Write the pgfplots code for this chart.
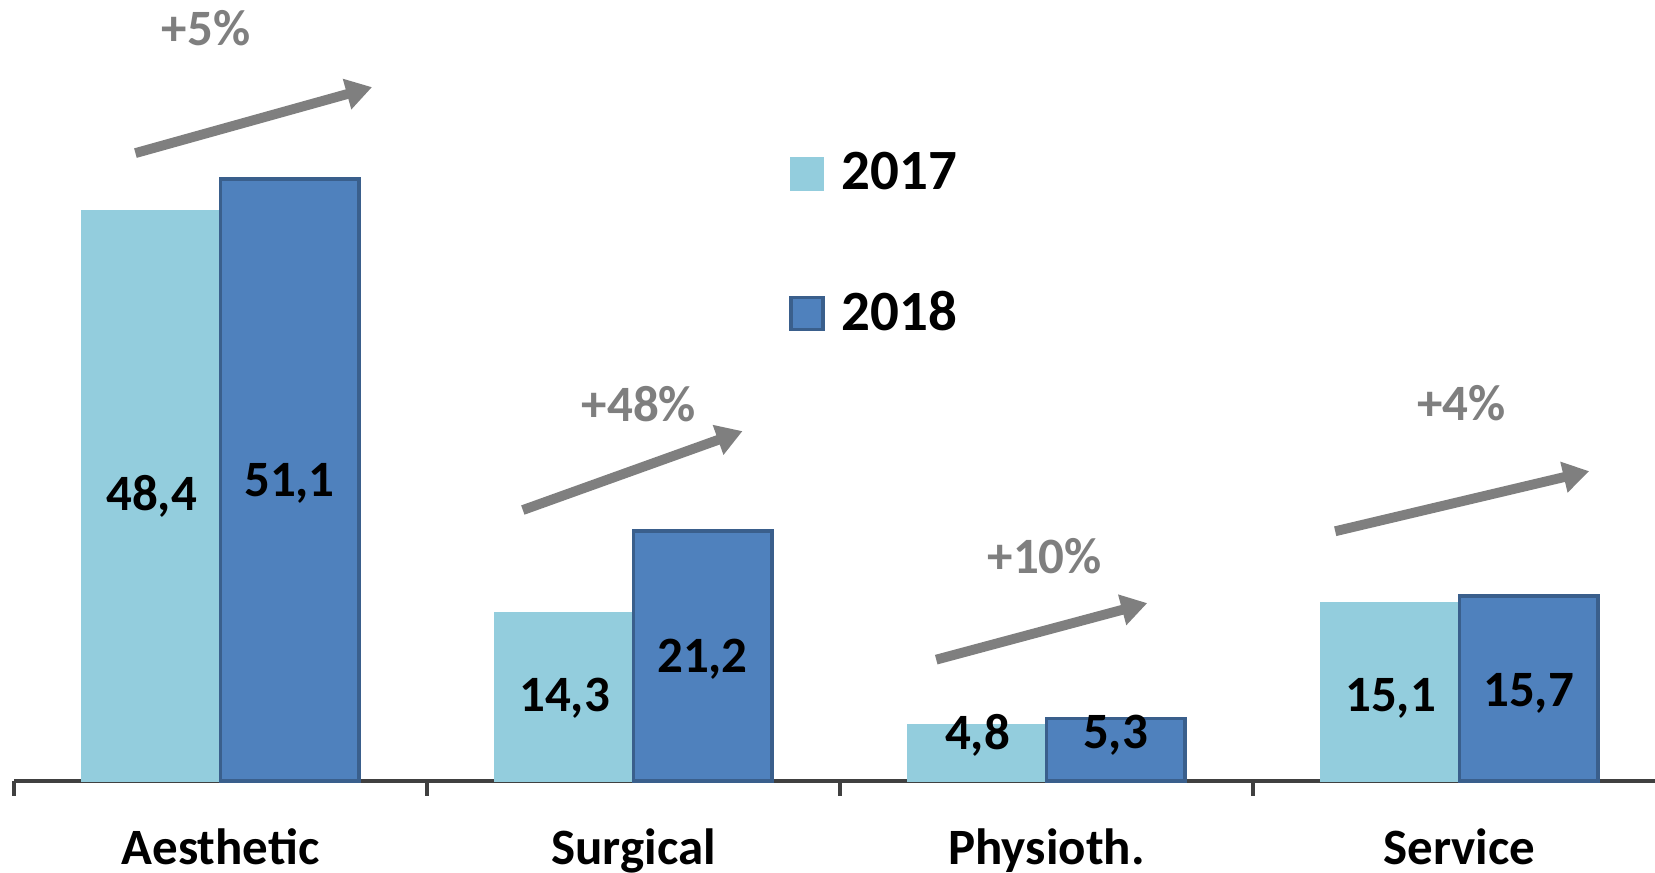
\documentclass[border=0pt]{standalone}
\usepackage{pgfplots}
\pgfplotsset{compat=1.18}
\usepackage{fontspec}
\setmainfont{Carlito}
\usetikzlibrary{arrows.meta}
\definecolor{c17}{HTML}{93CDDD}
\definecolor{c18}{HTML}{4F81BD}
\definecolor{c18b}{HTML}{3A5F8C}
\definecolor{gr}{HTML}{7F7F7F}
\begin{document}
\begin{tikzpicture}
\useasboundingbox (-0.14cm,-0.92cm) rectangle (16.41cm,7.81cm);
\begin{axis}[
  at={(0,0)}, anchor=south west,
  scale only axis, width=16.52cm, height=7.81cm,
  xmin=-0.5, xmax=3.5, ymin=0, ymax=66.3,
  clip=false,
  axis x line*=bottom, axis y line=none,
  x axis line style={-, line width=0.9pt, color=black!75},
  xtick={0,1,2,3},
  xticklabels={Aesthetic,Surgical,Physioth.,Service},
  major tick length=0pt,
  minor xtick={-0.5,0.5,1.5,2.5,3.5},
  minor tick length=0.15cm,
  tick align=outside,
  minor tick style={line width=0.9pt, color=black!75},
  xticklabel style={font=\fontsize{14.5}{17}\selectfont\bfseries, yshift=-0.35cm, anchor=north},
  legend style={draw=none, fill=none, at={(axis cs:1.35,54.6)}, anchor=north west,
    font=\fontsize{16.2}{19}\selectfont\bfseries, row sep=0.82cm},
  legend cell align=left,
  legend image code/.code={\draw[#1] (0cm,-0.16cm) rectangle (0.32cm,0.16cm); \path (0.42cm,0cm);},
]
\addplot[ybar, bar width=0.335, bar shift=-0.1675, fill=c17, draw=c17]
  table {
x y
0 48.4
1 14.3
2 4.8
3 15.1
};
\addlegendentry{2017}
\addplot[ybar, bar width=0.335, bar shift=0.1675, fill=c18, draw=c18b, line width=1pt]
  table {
x y
0 51.1
1 21.2
2 5.3
3 15.7
};
\addlegendentry{2018}
\addplot[only marks, mark=none, nodes near coords, point meta=explicit symbolic,
  every node near coord/.style={anchor=center, font=\fontsize{14.5}{17}\selectfont\bfseries, text=black}]
  table[meta=lab] {
x y lab
-0.167 24.2 48,4
0.167 25.3 51,1
0.833 7.0 14,3
1.167 10.3 21,2
1.833 3.85 4,8
2.167 3.85 5,3
2.833 7.0 15,1
3.167 7.4 15,7
};
\addplot[only marks, mark=none, nodes near coords, point meta=explicit symbolic,
  every node near coord/.style={anchor=center, font=\fontsize{14.5}{17}\selectfont\bfseries, text=gr}]
  table[meta=lab] {
x y lab
-0.035 63.9 +5\%
1.013 32.0 +48\%
1.996 19.1 +10\%
3.005 32.1 +4\%
};
\draw[gr, line width=2.8pt, -{Triangle[length=0.26cm,width=0.3cm]}] (axis cs:-0.206,53.3) -- (axis cs:0.367,58.9);
\draw[gr, line width=2.8pt, -{Triangle[length=0.26cm,width=0.3cm]}] (axis cs:0.732,23.0) -- (axis cs:1.264,29.7);
\draw[gr, line width=2.8pt, -{Triangle[length=0.26cm,width=0.3cm]}] (axis cs:1.733,10.3) -- (axis cs:2.244,15.1);
\draw[gr, line width=2.8pt, -{Triangle[length=0.26cm,width=0.3cm]}] (axis cs:2.699,21.2) -- (axis cs:3.314,26.3);
\end{axis}
\end{tikzpicture}
\end{document}
